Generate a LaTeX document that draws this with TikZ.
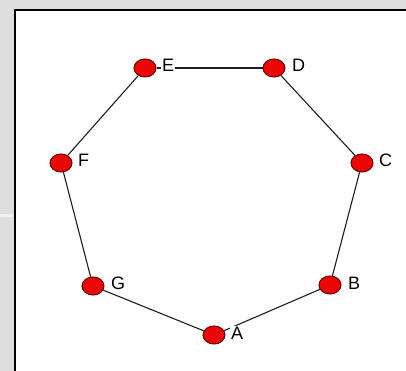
\documentclass[tikz,border=0pt]{standalone}
\usepackage{fontspec}
\setmainfont{Liberation Sans}
\usetikzlibrary{shapes.geometric}
\definecolor{bg}{RGB}{222,222,222}
\definecolor{dotred}{RGB}{232,8,8}
\definecolor{dotrim}{RGB}{110,0,0}
\definecolor{edgecol}{RGB}{30,30,30}
\begin{document}
\begin{tikzpicture}[x=1pt,y=1pt,
  vertex/.style={ellipse,fill=dotred,draw=dotrim,line width=1pt,minimum width=22pt,minimum height=18pt,inner sep=0pt},
  lbl/.style={anchor=west,fill=white,inner sep=1pt,font=\fontsize{18}{20}\selectfont},
  edge/.style={draw=edgecol,line width=1.1pt}]
\fill[bg] (0,0) rectangle (406,371);
\useasboundingbox (0,0) rectangle (406,371);
\fill[white!55!bg] (0,154) rectangle (13,156.5);
\filldraw[fill=white,draw=black,line width=2pt] (15,-5) rectangle (415,361);
\node[vertex] (A) at (214,36) {};
\node[vertex] (B) at (330,86) {};
\node[vertex] (C) at (362,208) {};
\node[vertex] (D) at (274,303) {};
\node[vertex] (E) at (145,303) {};
\node[vertex] (F) at (61,208) {};
\node[vertex] (G) at (93,85) {};
\draw[edge] (A) -- (B);
\draw[edge] (B) -- (C);
\draw[edge] (C) -- (D);
\draw[edge] (D) -- (E);
\draw[edge] (E) -- (F);
\draw[edge] (F) -- (G);
\draw[edge] (G) -- (A);
\node[lbl] (la) at (230,38) {A};
\node[lbl] (lb) at (347,88) {B};
\node[lbl] (lc) at (378,211) {C};
\node[lbl] (ld) at (291,306) {D};
\node[lbl] (le) at (161,306) {E};
\node[lbl] (lf) at (77,211) {F};
\node[lbl] (lg) at (110,88) {G};
\end{tikzpicture}
\end{document}
